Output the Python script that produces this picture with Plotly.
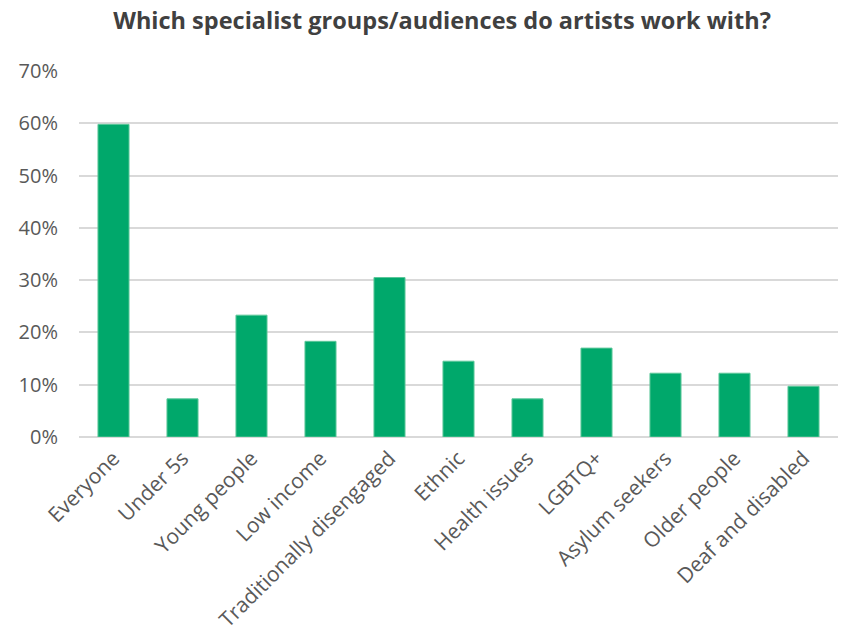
import plotly.graph_objects as go

categories = ["Everyone", "Under 5s", "Young people", "Low income", "Traditionally disengaged",
              "Ethnic", "Health issues", "LGBTQ+", "Asylum seekers", "Older people", "Deaf and disabled"]
values = [0.598, 0.073, 0.233, 0.183, 0.305, 0.145, 0.073, 0.170, 0.122, 0.122, 0.097]
y_ticks = [0, 0.1, 0.2, 0.3, 0.4, 0.5, 0.6, 0.7]

fig = go.Figure(go.Bar(
    x=categories, y=values,
    marker=dict(color="#00a86b", line=dict(color="#5cc79a", width=1)),
))

fig.update_layout(
    width=855, height=640,
    paper_bgcolor="white", plot_bgcolor="white",
    margin=dict(l=79, r=17, t=71, b=203),
    title=dict(text="<b>Which specialist groups/audiences do artists work with?</b>",
               x=0.517, xanchor="center", y=0.968, yanchor="middle",
               font=dict(family="Open Sans, sans-serif", size=23.5, color="#404040")),
    bargap=0.55,
    showlegend=False,
    font=dict(family="Open Sans, sans-serif", color="#595959"),
)
fig.update_yaxes(range=[0, 0.7], tickvals=y_ticks, tickformat=".0%",
                 showgrid=True, gridcolor="#d9d9d9", gridwidth=1.5,
                 zeroline=True, zerolinecolor="#d9d9d9", zerolinewidth=1.5,
                 tickfont=dict(size=20, color="#595959"), ticks="", ticklen=0,
                 ticklabelstandoff=20, automargin=False)
fig.update_xaxes(tickangle=-45, tickfont=dict(size=21, color="#595959"),
                 showline=False, ticks="", ticklabelstandoff=4, automargin=False)

fig.write_html("out.html")
